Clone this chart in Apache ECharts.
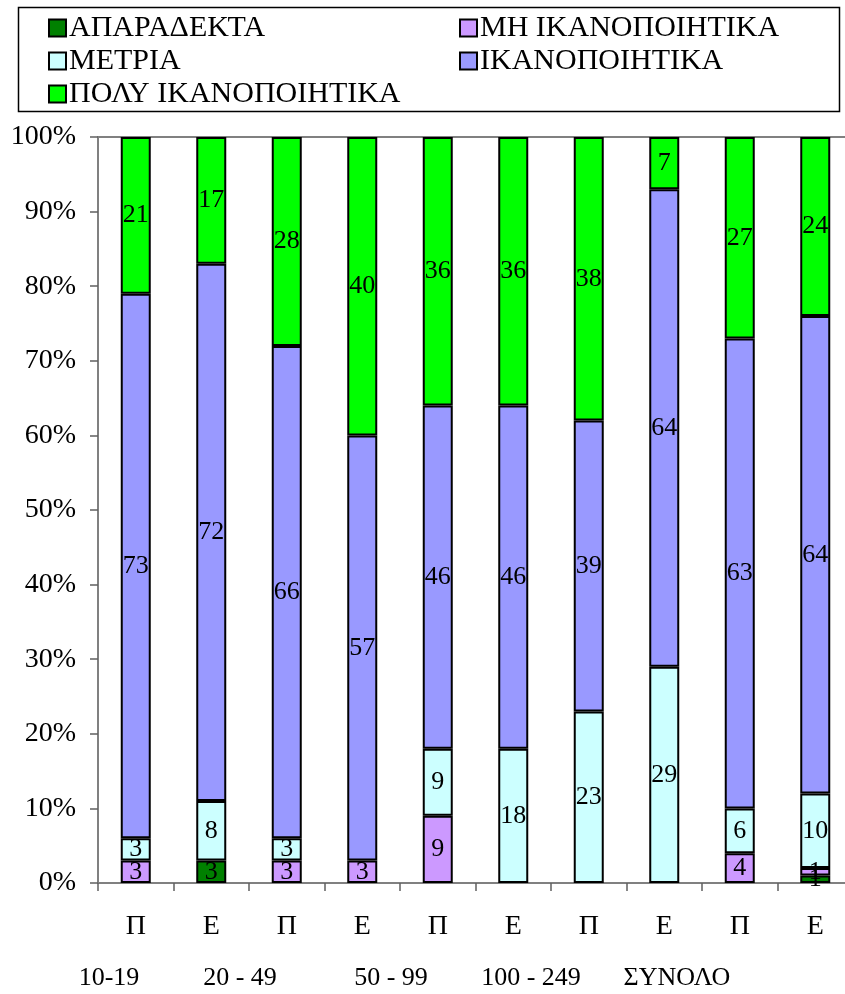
<!DOCTYPE html>
<html>
<head>
<meta charset="utf-8">
<script src="https://cdn.jsdelivr.net/npm/echarts@6/dist/echarts.min.js"></script>
<style>
  html, body { margin: 0; padding: 0; background: #fff; overflow: hidden; }
  #chart { width: 860px; height: 994px; }
</style>
</head>
<body>
<div id="chart"></div>
<script>
// Company size groups, each with a Π / Ε bar pair
const categories = ['Π', 'Ε', 'Π', 'Ε', 'Π', 'Ε', 'Π', 'Ε', 'Π', 'Ε'];
const groupLabels = ['10-19', '20 - 49', '50 - 99', '100 - 249', 'ΣΥΝΟΛΟ'];

// Percent of answers per rating, stacked bottom to top
const aparadekta = [0, 3, 0, 0, 0, 0, 0, 0, 0, 1];       // ΑΠΑΡΑΔΕΚΤΑ
const miIkano = [3, 0, 3, 3, 9, 0, 0, 0, 4, 1];          // ΜΗ ΙΚΑΝΟΠΟΙΗΤΙΚΑ
const metria = [3, 8, 3, 0, 9, 18, 23, 29, 6, 10];       // ΜΕΤΡΙΑ
const ikano = [73, 72, 66, 57, 46, 46, 39, 64, 63, 64];  // ΙΚΑΝΟΠΟΙΗΤΙΚΑ
const polyIkano = [21, 17, 28, 40, 36, 36, 38, 7, 27, 24]; // ΠΟΛΥ ΙΚΑΝΟΠΟΙΗΤΙΚΑ

const seriesDefs = [
  { name: 'ΑΠΑΡΑΔΕΚΤΑ', data: aparadekta, color: '#008000' },
  { name: 'ΜΗ ΙΚΑΝΟΠΟΙΗΤΙΚΑ', data: miIkano, color: '#CC99FF' },
  { name: 'ΜΕΤΡΙΑ', data: metria, color: '#CCFFFF' },
  { name: 'ΙΚΑΝΟΠΟΙΗΤΙΚΑ', data: ikano, color: '#9999FF' },
  { name: 'ΠΟΛΥ ΙΚΑΝΟΠΟΙΗΤΙΚΑ', data: polyIkano, color: '#00FF00' }
];

const FONT = '"Liberation Serif", "Times New Roman", serif';
const chart = echarts.init(document.getElementById('chart'), null, { renderer: 'canvas' });

const series = seriesDefs.map(s => ({
  name: s.name,
  type: 'bar',
  stack: 'total',
  barWidth: 30,
  data: s.data.map(v => (v === 0 ? '-' : v)),
  itemStyle: { color: s.color, borderColor: '#000', borderWidth: 2 },
  label: {
    show: true,
    position: 'inside',
    color: '#000',
    fontFamily: FONT,
    fontSize: 26,
    formatter: p => String(p.value)
  },
  emphasis: { disabled: true }
}));

const legendCommon = {
  orient: 'vertical',
  itemWidth: 17,
  itemHeight: 17,
  itemGap: 3,
  padding: 0,
  icon: 'rect',
  selectedMode: false,
  textStyle: { fontFamily: FONT, fontSize: 30, color: '#000', lineHeight: 30, padding: [0, 0, 0, -2] }
};

// Group captions under the Π / Ε labels
const groupX = [109, 240, 391, 531, 677];
const groupGraphics = groupLabels.map((t, i) => ({
  type: 'text',
  x: groupX[i],
  y: 978,
  style: { text: t, font: '26px ' + FONT, fill: '#000', textAlign: 'center', textVerticalAlign: 'middle' }
}));

chart.setOption({
  animation: false,
  backgroundColor: '#fff',
  grid: { left: 98, top: 137, right: 7, bottom: 111, containLabel: false },
  legend: [
    Object.assign({}, legendCommon, {
      left: 48, top: 13,
      data: ['ΑΠΑΡΑΔΕΚΤΑ', 'ΜΕΤΡΙΑ', 'ΠΟΛΥ ΙΚΑΝΟΠΟΙΗΤΙΚΑ']
    }),
    Object.assign({}, legendCommon, {
      left: 459, top: 13,
      data: ['ΜΗ ΙΚΑΝΟΠΟΙΗΤΙΚΑ', 'ΙΚΑΝΟΠΟΙΗΤΙΚΑ']
    })
  ],
  xAxis: [
    {
      type: 'category',
      data: categories,
      position: 'bottom',
      axisLine: { lineStyle: { color: '#808080', width: 2 } },
      axisTick: { show: true, alignWithLabel: false, length: 8, lineStyle: { color: '#606060', width: 1.5 } },
      axisLabel: { color: '#000', fontFamily: FONT, fontSize: 28, margin: 30 },
      splitLine: { show: false }
    },
    {
      type: 'category',
      data: categories,
      position: 'top',
      axisLine: { lineStyle: { color: '#808080', width: 2 } },
      axisTick: { show: false },
      axisLabel: { show: false }
    }
  ],
  yAxis: {
    type: 'value',
    min: 0,
    max: 100,
    interval: 10,
    axisLine: { show: true, lineStyle: { color: '#808080', width: 2 } },
    axisTick: { show: true, length: 8, lineStyle: { color: '#606060', width: 1.5 } },
    axisLabel: { color: '#000', fontFamily: FONT, fontSize: 28, margin: 22, formatter: '{value}%' },
    splitLine: { show: false }
  },
  graphic: [
    {
      type: 'rect',
      shape: { x: 18.5, y: 7.5, width: 821, height: 104 },
      style: { fill: 'none', stroke: '#000', lineWidth: 1.5 },
      z: 0
    }
  ].concat(groupGraphics),
  series: series
});
</script>
</body>
</html>
